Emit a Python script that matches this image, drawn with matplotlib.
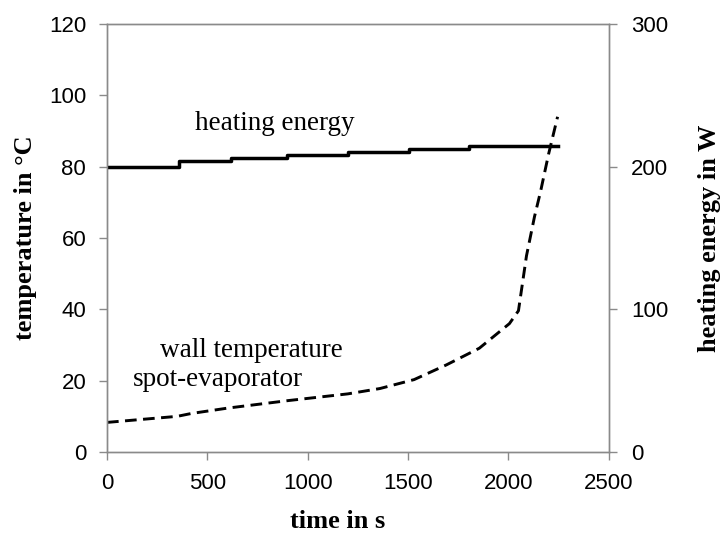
import matplotlib.pyplot as plt

# heating power steps (right axis, W)
heat_t = [0, 360, 620, 895, 1200, 1505, 1805, 2245]
heat_w = [200, 204, 206, 208, 210.5, 212.5, 214.5, 214.5]

# wall temperature of the spot evaporator (left axis, deg C)
wall_t = [0, 350, 420, 600, 900, 1200, 1360, 1530, 1690, 1855, 2005,
          2050, 2090, 2130, 2160, 2200, 2245]
wall_c = [8.3, 10.0, 10.8, 12.3, 14.4, 16.3, 17.8, 20.3, 24.4, 29.1, 36.0,
          39.6, 55.0, 66.0, 73.0, 83.5, 94.0]

gray = '#8a8a8a'
tick_font = {'family': 'Liberation Sans', 'size': 16}
label_font = {'family': 'Liberation Serif', 'size': 19, 'weight': 'bold'}

fig = plt.figure(figsize=(7.23, 5.39), dpi=100)
ax = fig.add_axes([0.148, 0.1614, 0.694, 0.794])
ax2 = ax.twinx()

ax.plot(wall_t, wall_c, color='black', lw=2.1, linestyle=(0, (4, 2.2)))
ax2.step(heat_t, heat_w, where='post', color='black', lw=2.5)

ax.set_xlim(0, 2500)
ax.set_ylim(0, 120)
ax2.set_ylim(0, 300)
ax.set_xticks(range(0, 2501, 500))
ax.set_yticks(range(0, 121, 20))
ax2.set_yticks([0, 100, 200, 300])

for a in (ax, ax2):
    for s in a.spines.values():
        s.set_color(gray)
        s.set_linewidth(1.0)
    a.tick_params(colors=gray, length=6, width=1.0, direction='out',
                  labelcolor='black')
    for lbl in a.get_xticklabels() + a.get_yticklabels():
        lbl.set_fontfamily(tick_font['family'])
        lbl.set_fontsize(tick_font['size'])
ax.tick_params(axis='y', pad=9)
ax.tick_params(axis='x', pad=9)
ax2.tick_params(axis='y', pad=10)

ax.set_xlabel('time in s', fontdict=label_font)
ax.xaxis.set_label_coords(0.46, -0.135)
ax.set_ylabel('temperature in °C', fontdict=label_font)
ax.yaxis.set_label_coords(-0.14, 0.5)
ax2.set_ylabel('heating energy in W', fontdict=label_font)
ax2.yaxis.set_label_coords(1.178, 0.5)

txt = {'fontfamily': 'Liberation Serif', 'fontsize': 19.5, 'va': 'center'}
ax.text(440, 92, 'heating energy', **txt)
ax.text(265, 28.6, 'wall temperature', **txt)
ax.text(130, 20.2, 'spot-evaporator', **txt)

fig.savefig('out.png', dpi=100)
